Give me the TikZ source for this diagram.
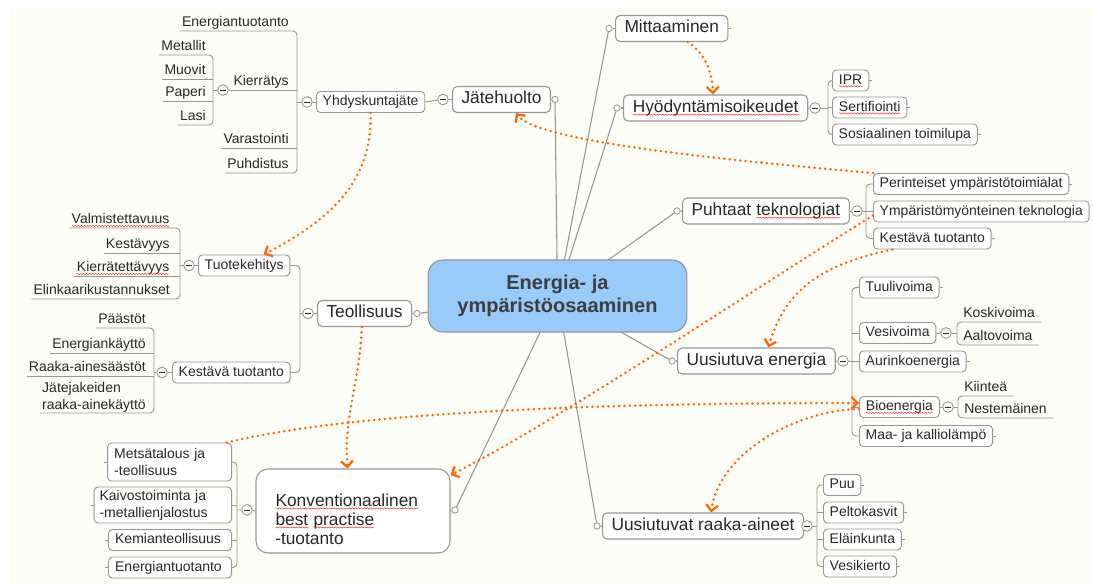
\documentclass[tikz,border=0pt]{standalone}
\usepackage{fontspec}
\setmainfont{Liberation Sans}
\usetikzlibrary{arrows.meta,decorations.pathmorphing}
\pgfdeclarelayer{lines}
\pgfsetlayers{lines,main}
\definecolor{bg}{RGB}{253,253,247}
\definecolor{bord}{RGB}{150,150,150}
\definecolor{txt}{RGB}{40,40,40}
\definecolor{ctxt}{RGB}{62,62,62}
\definecolor{org}{RGB}{255,102,0}
\definecolor{cblue}{RGB}{152,202,250}
\definecolor{lnk}{RGB}{150,150,150}
\newcommand{\sq}[1]{\tikz[baseline=(sqt.base)]{\node[shape=rectangle,inner sep=0pt,outer sep=0pt,draw=none,fill=none,minimum width=0pt,minimum height=0pt,text height=,text depth=,anchor=center,sharp corners](sqt){#1};\draw[red!85,line width=0.35pt,sharp corners,solid,decorate,decoration={snake,amplitude=0.45pt,segment length=2.2pt}]([yshift=-1.7pt]sqt.base west)--([yshift=-1.7pt]sqt.base east);}}
\begin{document}
\begin{tikzpicture}[x=0.75pt,y=-0.75pt,
  font=\fontsize{10.5pt}{12.6pt}\selectfont, text=txt,
  mainbox/.style={draw=bord,line width=0.8pt,fill=white,rounded corners=3.5pt,font=\fontsize{13pt}{15pt}\selectfont,inner xsep=6.75pt,inner ysep=0pt,minimum height=19.5pt,text height=9.4pt,text depth=2.8pt,anchor=west},
  subbox/.style={draw=bord,line width=0.7pt,fill=white,rounded corners=3pt,inner xsep=4.7pt,inner ysep=0pt,minimum height=15.75pt,text height=7.8pt,text depth=2.4pt,anchor=west},
  leftbox/.style={subbox,anchor=east,align=left,inner xsep=5pt},
  leaf/.style={inner xsep=1.5pt,inner ysep=0.5pt,text height=7.8pt,text depth=2.5pt},
  leafr/.style={leaf,anchor=south east},
  leafl/.style={leaf,anchor=south west},
  br/.style={draw=bord,line width=0.7pt,rounded corners=3pt},
  tick/.style={draw=bord,line width=0.7pt},
  spoke/.style={draw=lnk,line width=0.8pt},
  dotc/.style={circle,draw=bord,fill=white,line width=0.6pt,minimum size=4.8pt,inner sep=0pt},
  minus/.style={circle,draw=bord,fill=white,line width=0.65pt,minimum size=8pt,inner sep=0pt,path picture={\draw[txt,line width=0.7pt] ([xshift=-2pt]path picture bounding box.center)--([xshift=2pt]path picture bounding box.center);}},
  rel/.style={draw=org,line width=2.1pt,line cap=round,dash pattern=on 0pt off 4pt,-{Straight Barb[length=4.5pt,width=9pt,line width=1.7pt]}}
]
\useasboundingbox (0,0) rectangle (1093,584);

% centre
\node[draw=bord,fill=cblue,rounded corners=11pt,line width=0.8pt,minimum width=194pt,minimum height=54pt,align=center,text=ctxt,font=\fontsize{15pt}{17.5pt}\selectfont\bfseries] (c) at (557.5,296) {Energia- ja\\ympäristöosaaminen};

% main topics
\node[mainbox] (mitt) at (615,28.5) {Mittaaminen};
\node[mainbox] (hyod) at (623,108) {\sq{Hyödyntämisoikeudet}};
\node[mainbox] (jate) at (452,99.5) {Jätehuolto};
\node[mainbox] (teol) at (317,313.5) {Teollisuus};
\node[mainbox] (puht) at (682,211) {Puhtaat \sq{teknologiat}};
\node[mainbox] (uusie) at (677,361) {Uusiutuva energia};
\node[mainbox] (uusir) at (602,526) {Uusiutuvat raaka-aineet};
\node[draw=bord,line width=0.8pt,fill=white,rounded corners=9pt,minimum width=145.5pt,minimum height=63pt] (konv) at (353,511) {};
\node[anchor=west,align=left,font=\fontsize{13pt}{14.3pt}\selectfont,inner sep=0pt] (konvt) at (275,519) {\sq{Konventionaalinen}\\\sq{best} \sq{practise}\\-tuotanto};

% sub topics
\node[subbox] (yhd) at (316,102) {Yhdyskuntajäte};
\node[subbox] (tuot) at (198,265.5) {Tuotekehitys};
\node[subbox] (kest) at (172,372.5) {Kestävä tuotanto};
\node[subbox] (ipr) at (832,80.5) {\sq{IPR}};
\node[subbox] (sert) at (832,107.5) {\sq{Sertifiointi}};
\node[subbox] (sosi) at (832,134.5) {Sosiaalinen toimilupa};
\node[subbox] (peri) at (873,184) {Perinteiset ympäristötoimialat};
\node[subbox] (ympm) at (873,211.5) {Ympäristömyönteinen teknologia};
\node[subbox] (kestp) at (873,238.5) {Kestävä tuotanto};
\node[subbox] (tuul) at (859,287.5) {Tuulivoima};
\node[subbox] (vesi) at (859,333) {Vesivoima};
\node[subbox] (auri) at (859,361.5) {Aurinkoenergia};
\node[subbox] (bio) at (859,407) {\sq{Bioenergia}};
\node[subbox] (maa) at (859,436) {Maa- ja kalliolämpö};
\node[subbox] (puu) at (823,485) {Puu};
\node[subbox] (pelt) at (823,512.5) {Peltokasvit};
\node[subbox] (elai) at (823,539.5) {Eläinkunta};
\node[subbox] (vesk) at (823,566.5) {Vesikierto};
\node[leftbox,text height=,text depth=,text width=83pt,minimum height=28.5pt] (metsa) at (232,462) {Metsätalous ja\\-teollisuus};
\node[leftbox,text height=,text depth=,text width=95pt,minimum height=27pt,inner xsep=4pt] (kaivo) at (232,505) {Kaivostoiminta ja\\-metallienjalostus};
\node[leftbox,text width=82.3pt] (kemi) at (232,540) {Kemianteollisuus};
\node[leftbox,text width=82.3pt] (energ2) at (232,567.5) {Energiantuotanto};

% leaves (underline style)
\node[leafr] (le1) at (291,31) {Energiantuotanto};
\node[leafr] (lkier) at (291,90) {Kierrätys};
\node[leafr] (lmet) at (208,55) {Metallit};
\node[leafr] (lmuo) at (208,79) {Muovit};
\node[leafr] (lpap) at (208,101) {Paperi};
\node[leafr] (llas) at (208,125) {Lasi};
\node[leafr] (lvar) at (291,148) {Varastointi};
\node[leafr] (lpuh) at (291,173) {Puhdistus};
\node[leafr] (lval) at (172,228) {\sq{Valmistettavuus}};
\node[leafr] (lkes) at (172,253) {Kestävyys};
\node[leafr] (lkie) at (172,276) {\sq{Kierrätettävyys}};
\node[leafr] (lel) at (172,299) {Elinkaarikustannukset};
\node[leafr] (lpaa) at (148,328) {Päästöt};
\node[leafr] (lene) at (148,353) {Energiankäyttö};
\node[leafr] (lraa) at (148,376) {Raaka-ainesäästöt};
\node[anchor=south east,align=left,inner xsep=1.5pt,inner ysep=0.5pt] (ljat) at (148,413) {Jätejakeiden\\raaka-ainekäyttö};
\node[leafl] (lkos) at (961,322) {Koskivoima};
\node[leafl] (laal) at (961,345) {Aaltovoima};
\node[leafl] (lkii) at (962,396) {Kiinteä};
\node[leafl] (lnes) at (962,418) {Nestemäinen};

% attachment dots
\node[dotc] (dmitt) at (609,28.5) {};
\node[dotc] (dhyod) at (617,108) {};
\node[dotc] (djate) at (555,99.5) {};
\node[dotc] (dteol) at (417,313.5) {};
\node[dotc] (dpuht) at (677,211) {};
\node[dotc] (duusie) at (672,361) {};
\node[dotc] (duusir) at (597,526) {};
\node[dotc] (dkonv) at (455,510) {};

% minus markers
\node[minus] (mhyod) at (815,108) {};
\node[minus] (mjate) at (443,99.5) {};
\node[minus] (myhd) at (307,102) {};
\node[minus] (mkier) at (223,90) {};
\node[minus] (mteol) at (308,313.5) {};
\node[minus] (mtuot) at (189,265.5) {};
\node[minus] (mkest) at (162,372.5) {};
\node[minus] (mkonv) at (247,510) {};
\node[minus] (mpuht) at (857,211) {};
\node[minus] (muusie) at (843,361) {};
\node[minus] (mvesi) at (946,333) {};
\node[minus] (mbio) at (948,407) {};
\node[minus] (muusir) at (807,526) {};

\begin{pgfonlayer}{lines}
\fill[white] (0,0) rectangle (1093,584);
\fill[bg] (10,7) rectangle (1093,584);
% spokes
\foreach \d in {dmitt,dhyod,djate,dteol,dpuht,duusie,duusir,dkonv}
  \draw[spoke] (c.center) -- (\d);
\draw[spoke] (dmitt) -- (mitt.west);
\draw[spoke] (dhyod) -- (hyod.west);
\draw[spoke] (djate) -- (jate.east);
\draw[spoke] (dteol) -- (teol.east);
\draw[spoke] (dpuht) -- (puht.west);
\draw[spoke] (duusie) -- (uusie.west);
\draw[spoke] (duusir) -- (uusir.west);
\draw[spoke] (dkonv) -- (konv.east);
% Hyodyntamisoikeudet
\draw[br] (hyod.east) -- (mhyod) -- (828,108);
\draw[br] (ipr.west) -| (828,107.5) |- (sosi.west);
\draw[br] (sert.west) -- (828,107.5);
% Jatehuolto
\draw[br] (jate.west) -- (mjate) -- (yhd.east);
\draw[br] (yhd.west) -- (myhd) -- (297,102);
\draw[br] (le1.south west) -- (297,31) -- (297,173) -- (lpuh.south west);
\draw[br] (mkier) -- (297,90);
\draw[br] (lvar.south west) -- (297,148);
\draw[br] (lmet.south west) -- (213,55) -- (213,125) -- (llas.south west);
\draw[br] (lmuo.south west) -- (213,79);
\draw[br] (lpap.south west) -- (213,101);
\draw[br] (mkier) -- (213,90);
% Teollisuus
\draw[br] (teol.west) -- (mteol) -- (300,313.5);
\draw[br] (tuot.east) -| (300,313.5) |- (kest.east);
\draw[br] (tuot.west) -- (mtuot) -- (180,265.5);
\draw[br] (lval.south west) -- (180,228) -- (180,299) -- (lel.south west);
\draw[br] (lkes.south west) -- (180,253);
\draw[br] (lkie.south west) -- (180,276);
\draw[br] (kest.west) -- (mkest) -- (154,372.5);
\draw[br] (lpaa.south west) -- (154,328) -- (154,413) -- (ljat.south west);
\draw[br] (lene.south west) -- (154,353);
\draw[br] (lraa.south west) -- (154,376);
% Konventionaalinen
\draw[br] (konv.west) -- (mkonv) -- (237,510);
\draw[br] (metsa.east) -| (237,510) |- (energ2.east);
\draw[br] (kaivo.east) -- (237,505);
\draw[br] (kemi.east) -- (237,540);
% Puhtaat
\draw[br] (puht.east) -- (mpuht) -- (866,211);
\draw[br] (peri.west) -| (866,211) |- (kestp.west);
\draw[br] (ympm.west) -- (866,211.5);
% Uusiutuva energia
\draw[br] (uusie.east) -- (muusie) -- (852,361);
\draw[br] (tuul.west) -| (852,361) |- (maa.west);
\draw[br] (vesi.west) -- (852,333);
\draw[br] (auri.west) -- (852,361.5);
\draw[br] (bio.west) -- (852,407);
\draw[br] (vesi.east) -- (mvesi) -- (957,333);
\draw[br] ([xshift=3pt]lkos.south east) -- (957,322) -- (957,345) -- ([xshift=3pt]laal.south east);
\draw[br] (bio.east) -- (mbio) -- (958,407);
\draw[br] ([xshift=3pt]lkii.south east) -- (958,396) -- (958,418) -- ([xshift=3pt]lnes.south east);
% Uusiutuvat raaka-aineet
\draw[br] (uusir.east) -- (muusir) -- (817,526);
\draw[br] (puu.west) -| (817,526) |- (vesk.west);
\draw[br] (pelt.west) -- (817,512.5);
\draw[br] (elai.west) -- (817,539.5);
% collapsed ticks
\foreach \n in {mitt,ipr,sert,sosi,peri,kestp,tuul,auri,maa,puu,pelt,elai,vesk}
  \draw[tick] (\n.east) -- ++(3,0);
\foreach \n in {metsa,kaivo,kemi,energ2}
  \draw[tick] (\n.west) -- ++(-3,0);
\end{pgfonlayer}

% relationship arrows
\draw[rel] ([xshift=12pt]mitt.south) .. controls (700,50) and (712,65) .. ([xshift=-2pt]hyod.north);
\draw[rel] (peri.north west) .. controls (700,158) and (535,140) .. ([xshift=11pt]jate.south);
\draw[rel] (yhd.south) .. controls (372,175) and (340,215) .. ([xshift=14.6pt]tuot.north);
\draw[rel] ([xshift=-2pt]teol.south) .. controls (360,380) and (343,420) .. ([xshift=-4pt]konv.north);
\draw[rel] ([yshift=-3pt]ympm.west) .. controls (760,285) and (560,420) .. ([yshift=-5pt]konv.north east);
\draw[rel] ([xshift=-30pt]kestp.south) .. controls (820,265) and (785,290) .. ([xshift=9pt]uusie.north);
\draw[rel] ([xshift=-4pt]metsa.north east) .. controls (320,420) and (500,403) .. ([yshift=3pt]bio.west);
\draw[rel] ([yshift=-1.5pt]bio.west) .. controls (800,410) and (720,450) .. ([xshift=6pt]uusir.north);
\end{tikzpicture}
\end{document}
